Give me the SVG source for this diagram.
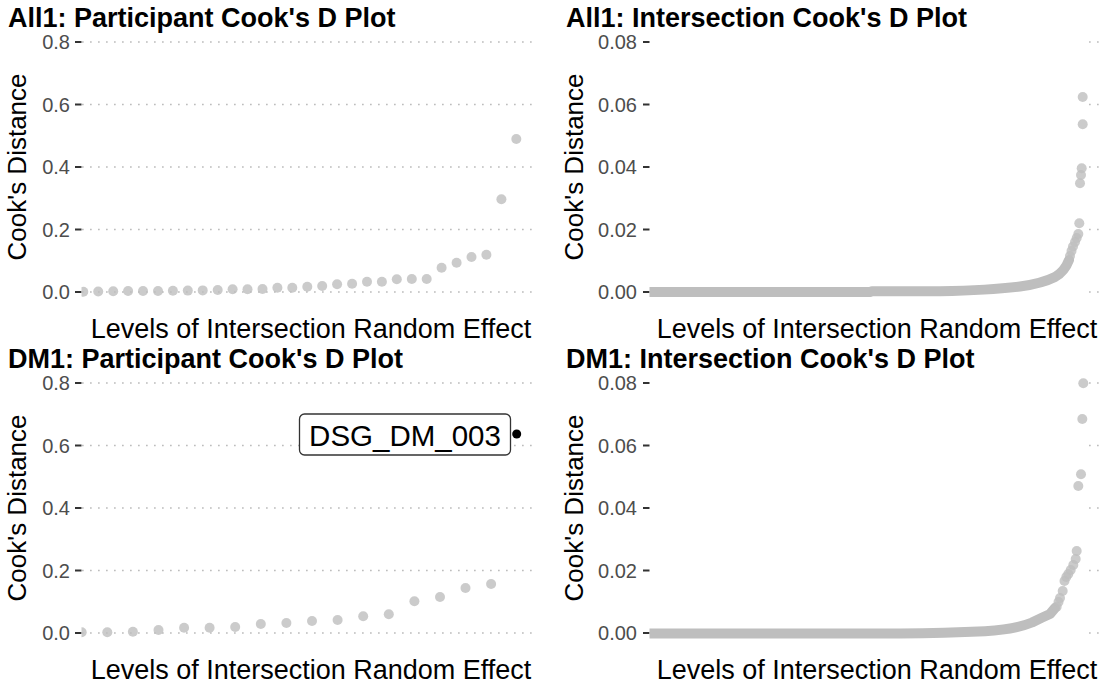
<svg xmlns="http://www.w3.org/2000/svg" width="1107" height="690" viewBox="0 0 1107 690">
<style>
text{font-family:"Liberation Sans",Arial,sans-serif}
.title{font-size:27px;font-weight:bold;fill:#000}
.tick{font-size:20px;fill:#4d4d4d;text-anchor:end}
.xt{font-size:27px;fill:#000;text-anchor:middle}
.yt{font-size:26px;fill:#000;text-anchor:middle}
.grid{stroke:#bdbdbd;stroke-width:1.7;stroke-dasharray:1.7 6.3;fill:none}
.tk{stroke:#333;stroke-width:2}
.pt{fill:#bebebe;fill-opacity:0.8}
.band{stroke:#bebebe;stroke-width:10;fill:none;stroke-linecap:round;stroke-linejoin:round}
</style>
<defs>
<clipPath id="cl"><rect x="81.5" y="0" width="460" height="690"/></clipPath>
<clipPath id="cr"><rect x="649.5" y="0" width="457" height="690"/></clipPath>
</defs>
<rect width="1107" height="690" fill="#fff"/>

<g id="panel-all1-participant">
<text class="title" x="8" y="27">All1: Participant Cook's D Plot</text>
<g class="grid"><path d="M82 42H537M82 104.5H537M82 167H537M82 229.5H537M82 292H537"/></g>
<g class="tk"><path d="M75 42H81.5M75 104.5H81.5M75 167H81.5M75 229.5H81.5M75 292H81.5"/></g>
<text class="tick" x="70" y="49">0.8</text>
<text class="tick" x="70" y="111.5">0.6</text>
<text class="tick" x="70" y="174">0.4</text>
<text class="tick" x="70" y="236.5">0.2</text>
<text class="tick" x="70" y="299">0.0</text>
<text class="xt" x="311" y="338">Levels of Intersection Random Effect</text>
<text class="yt" transform="translate(26,167) rotate(-90)">Cook's Distance</text>
<g clip-path="url(#cl)">
<circle class="pt" cx="83.3" cy="291.7" r="5"/><circle class="pt" cx="98.2" cy="291.5" r="5"/><circle class="pt" cx="113.2" cy="291.3" r="5"/><circle class="pt" cx="128.1" cy="291" r="5"/><circle class="pt" cx="143" cy="291" r="5"/><circle class="pt" cx="158" cy="291" r="5"/><circle class="pt" cx="172.9" cy="290.8" r="5"/><circle class="pt" cx="187.8" cy="290.6" r="5"/><circle class="pt" cx="202.7" cy="290.4" r="5"/><circle class="pt" cx="217.7" cy="290" r="5"/><circle class="pt" cx="232.6" cy="289.3" r="5"/><circle class="pt" cx="247.5" cy="289.3" r="5"/><circle class="pt" cx="262.5" cy="289" r="5"/><circle class="pt" cx="277.4" cy="287.7" r="5"/><circle class="pt" cx="292.3" cy="287.7" r="5"/><circle class="pt" cx="307.3" cy="286.7" r="5"/><circle class="pt" cx="322.2" cy="286" r="5"/><circle class="pt" cx="337.1" cy="284.3" r="5"/><circle class="pt" cx="352.1" cy="283.7" r="5"/><circle class="pt" cx="367" cy="281.7" r="5"/><circle class="pt" cx="381.9" cy="281.7" r="5"/><circle class="pt" cx="396.8" cy="279.2" r="5"/><circle class="pt" cx="411.8" cy="279" r="5"/><circle class="pt" cx="426.7" cy="279" r="5"/><circle class="pt" cx="441.6" cy="267.7" r="5"/><circle class="pt" cx="456.6" cy="262.7" r="5"/><circle class="pt" cx="471.5" cy="257" r="5"/><circle class="pt" cx="486.4" cy="254.7" r="5"/><circle class="pt" cx="501.4" cy="199.3" r="5"/><circle class="pt" cx="516.3" cy="139" r="5"/>
</g>
</g>

<g id="panel-all1-intersection">
<text class="title" x="566" y="27">All1: Intersection Cook's D Plot</text>
<g class="grid"><path d="M1089 42H1102M1089 104.5H1102M1089 167H1102M1089 229.5H1102M1089 292H1102"/></g>
<g class="tk"><path d="M643 42H649.5M643 104.5H649.5M643 167H649.5M643 229.5H649.5M643 292H649.5"/></g>
<text class="tick" x="637" y="49">0.08</text>
<text class="tick" x="637" y="111.5">0.06</text>
<text class="tick" x="637" y="174">0.04</text>
<text class="tick" x="637" y="236.5">0.02</text>
<text class="tick" x="637" y="299">0.00</text>
<text class="xt" x="877" y="338">Levels of Intersection Random Effect</text>
<text class="yt" transform="translate(583,167) rotate(-90)">Cook's Distance</text>
<g clip-path="url(#cr)">
<path class="band" d="M645 292H870L872 291.3H940C975 290.5 1000 289 1020 286.5C1035 284.5 1047 281 1055 277C1062 273 1066 268 1069 260"/>
<circle class="pt" cx="1070" cy="256" r="5"/><circle class="pt" cx="1071.5" cy="251" r="5"/><circle class="pt" cx="1073" cy="246.5" r="5"/><circle class="pt" cx="1075" cy="242" r="5"/><circle class="pt" cx="1076.7" cy="238" r="5"/><circle class="pt" cx="1078.3" cy="234" r="5"/><circle class="pt" cx="1079.3" cy="223.3" r="5"/><circle class="pt" cx="1080" cy="183.3" r="5"/><circle class="pt" cx="1081" cy="175" r="5"/><circle class="pt" cx="1081.7" cy="168.3" r="5"/><circle class="pt" cx="1082.7" cy="124.3" r="5"/><circle class="pt" cx="1082.7" cy="97" r="5"/>
</g>
</g>

<g id="panel-dm1-participant">
<text class="title" x="8" y="368">DM1: Participant Cook's D Plot</text>
<g class="grid"><path d="M82 383H537M82 445.5H537M82 508H537M82 570.5H537M82 633H537"/></g>
<g class="tk"><path d="M75 383H81.5M75 445.5H81.5M75 508H81.5M75 570.5H81.5M75 633H81.5"/></g>
<text class="tick" x="70" y="390">0.8</text>
<text class="tick" x="70" y="452.5">0.6</text>
<text class="tick" x="70" y="515">0.4</text>
<text class="tick" x="70" y="577.5">0.2</text>
<text class="tick" x="70" y="640">0.0</text>
<text class="xt" x="311" y="679">Levels of Intersection Random Effect</text>
<text class="yt" transform="translate(26,508) rotate(-90)">Cook's Distance</text>
<g clip-path="url(#cl)">
<circle class="pt" cx="81.7" cy="632.3" r="5"/><circle class="pt" cx="107.3" cy="632.3" r="5"/><circle class="pt" cx="132.9" cy="631.7" r="5"/><circle class="pt" cx="158.5" cy="630" r="5"/><circle class="pt" cx="184.1" cy="627.7" r="5"/><circle class="pt" cx="209.6" cy="627.7" r="5"/><circle class="pt" cx="235.2" cy="627" r="5"/><circle class="pt" cx="260.8" cy="624" r="5"/><circle class="pt" cx="286.4" cy="623" r="5"/><circle class="pt" cx="312" cy="621" r="5"/><circle class="pt" cx="337.6" cy="620" r="5"/><circle class="pt" cx="363.2" cy="616.3" r="5"/><circle class="pt" cx="388.8" cy="614.3" r="5"/><circle class="pt" cx="414.4" cy="601.3" r="5"/><circle class="pt" cx="440" cy="597" r="5"/><circle class="pt" cx="465.5" cy="588" r="5"/><circle class="pt" cx="491.1" cy="584" r="5"/>
<circle cx="516.7" cy="434" r="4.5" fill="#000"/>
</g>
<rect x="299.5" y="414" width="211" height="41" rx="5" fill="#fff" stroke="#333" stroke-width="1.3"/>
<text x="405" y="445.5" font-size="29.5" text-anchor="middle" fill="#000">DSG_DM_003</text>
</g>

<g id="panel-dm1-intersection">
<text class="title" x="566" y="368">DM1: Intersection Cook's D Plot</text>
<g class="grid"><path d="M1089 383H1102M1089 445.5H1102M1089 508H1102M1089 570.5H1102M1089 633H1102"/></g>
<g class="tk"><path d="M643 383H649.5M643 445.5H649.5M643 508H649.5M643 570.5H649.5M643 633H649.5"/></g>
<text class="tick" x="637" y="390">0.08</text>
<text class="tick" x="637" y="452.5">0.06</text>
<text class="tick" x="637" y="515">0.04</text>
<text class="tick" x="637" y="577.5">0.02</text>
<text class="tick" x="637" y="640">0.00</text>
<text class="xt" x="877" y="679">Levels of Intersection Random Effect</text>
<text class="yt" transform="translate(583,508) rotate(-90)">Cook's Distance</text>
<g clip-path="url(#cr)">
<path class="band" d="M645 633.5H900C930 633.3 960 632.5 985 631.3C1005 630 1020 627.5 1032 622.5C1038 619.5 1042 617.5 1050 614L1055 608"/>
<circle class="pt" cx="1056.7" cy="606.7" r="5"/><circle class="pt" cx="1058.5" cy="602" r="5"/><circle class="pt" cx="1060" cy="598" r="5"/><circle class="pt" cx="1062.7" cy="591" r="5"/><circle class="pt" cx="1064.5" cy="581" r="5"/><circle class="pt" cx="1066.3" cy="577" r="5"/><circle class="pt" cx="1068.3" cy="574" r="5"/><circle class="pt" cx="1070.7" cy="570" r="5"/><circle class="pt" cx="1073.3" cy="565" r="5"/><circle class="pt" cx="1075.7" cy="559" r="5"/><circle class="pt" cx="1076.7" cy="551" r="5"/><circle class="pt" cx="1078.3" cy="486" r="5"/><circle class="pt" cx="1081" cy="474.3" r="5"/><circle class="pt" cx="1082.3" cy="419" r="5"/><circle class="pt" cx="1083.3" cy="383.3" r="5"/>
</g>
</g>
</svg>
